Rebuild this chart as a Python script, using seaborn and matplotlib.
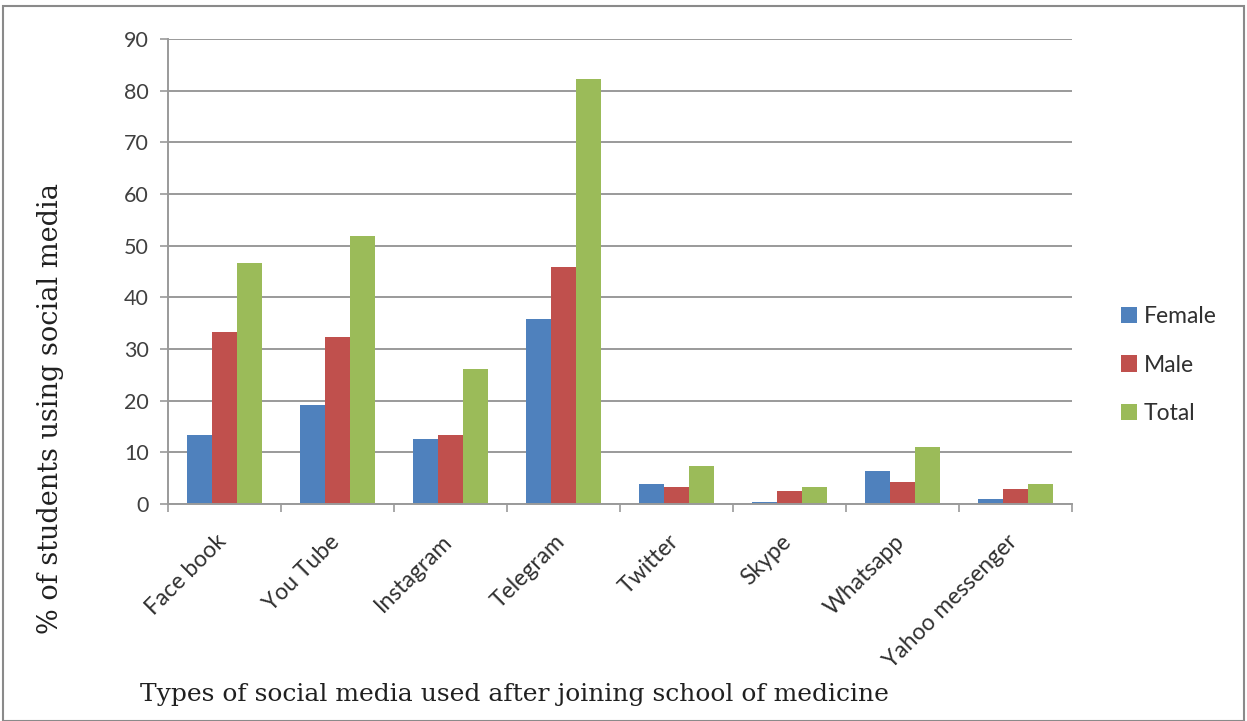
import matplotlib
matplotlib.use("Agg")
import matplotlib.pyplot as plt
import matplotlib.transforms as mtransforms
import seaborn as sns
import pandas as pd
import numpy as np
from matplotlib.patches import Rectangle

categories = ["Face book", "You Tube", "Instagram", "Telegram", "Twitter",
              "Skype", "Whatsapp", "Yahoo messenger"]
female = [13.3, 19.2, 12.5, 35.9, 3.9, 0.3, 6.4, 0.9]
male = [33.3, 32.3, 13.4, 45.9, 3.3, 2.6, 4.3, 2.9]
total = [46.7, 51.9, 26.2, 82.2, 7.3, 3.2, 11.0, 3.8]
series = ["Female", "Male", "Total"]
colors = ["#4F81BD", "#C0504D", "#9BBB59"]
yticks = [0, 10, 20, 30, 40, 50, 60, 70, 80, 90]

df = pd.DataFrame({
    "cat": categories * 3,
    "series": ["Female"] * 8 + ["Male"] * 8 + ["Total"] * 8,
    "val": female + male + total,
})

sns.set_style("white")
plt.rcParams["font.family"] = ["Lato", "DejaVu Sans"]

fig = plt.figure(figsize=(12.47, 7.21), dpi=100)
ax = fig.add_axes([168 / 1247, 1 - 504 / 721, (1072 - 168) / 1247, (504 - 39) / 721])

sns.barplot(data=df, x="cat", y="val", hue="series", order=categories,
            hue_order=series, palette=colors, width=0.67, saturation=1,
            ax=ax, legend=True, linewidth=0)

ax.set_ylim(0, 90)
ax.set_xlim(-0.5, len(categories) - 0.5)
ax.set_yticks(yticks)
ax.set_yticklabels([str(v) for v in yticks], fontsize=15.5, color="#404040")
ax.yaxis.grid(True, color="#9a9a9a", linewidth=1.4)
ax.set_axisbelow(True)
for s in ["top", "right"]:
    ax.spines[s].set_visible(False)
for s in ["left", "bottom"]:
    ax.spines[s].set_color("#9a9a9a")
    ax.spines[s].set_linewidth(1.4)
ax.tick_params(axis="y", length=6, width=1.2, color="#9a9a9a", direction="out", left=True, pad=8)
ax.set_xticks(range(len(categories)))
ax.set_xticklabels(categories, rotation=45, ha="right", rotation_mode="anchor",
                   fontsize=16.5, color="#303030")
ax.tick_params(axis="x", length=0, pad=18)
offset = mtransforms.ScaledTranslation(-0.09, -0.02, fig.dpi_scale_trans)
for lbl in ax.get_xticklabels():
    lbl.set_transform(lbl.get_transform() + offset)
ax.set_xticks(np.arange(-0.5, len(categories)), minor=True)
ax.tick_params(axis="x", which="minor", length=6, width=1.2, color="#9a9a9a", direction="out", bottom=True)
ax.set_xlabel("")
ax.set_ylabel("")

handles, labels = ax.get_legend_handles_labels()
ax.legend(handles, labels, loc="center left", bbox_to_anchor=(1100 / 1247, 1 - 365 / 721),
          bbox_transform=fig.transFigure, frameon=False, fontsize=16.5,
          handlelength=0.7, handleheight=0.7, handletextpad=0.3, labelspacing=1.2,
          labelcolor="#303030")

fig.text(51 / 1247, 1 - 408 / 721, "% of students using social media", rotation=90,
         ha="center", va="center", fontsize=19.5, family=["DejaVu Serif"], color="#202020")
fig.text(140 / 1247, 1 - 695 / 721, "Types of social media used after joining school of medicine",
         ha="left", va="center", fontsize=18, family=["DejaVu Serif"], color="#202020")

fig.add_artist(Rectangle((3 / 1247, 0.0), 1 - 6 / 1247, 1 - 6 / 721, transform=fig.transFigure,
                         fill=False, edgecolor="#8a8a8a", linewidth=1.5))

fig.savefig("out.png", dpi=100, facecolor="white")
